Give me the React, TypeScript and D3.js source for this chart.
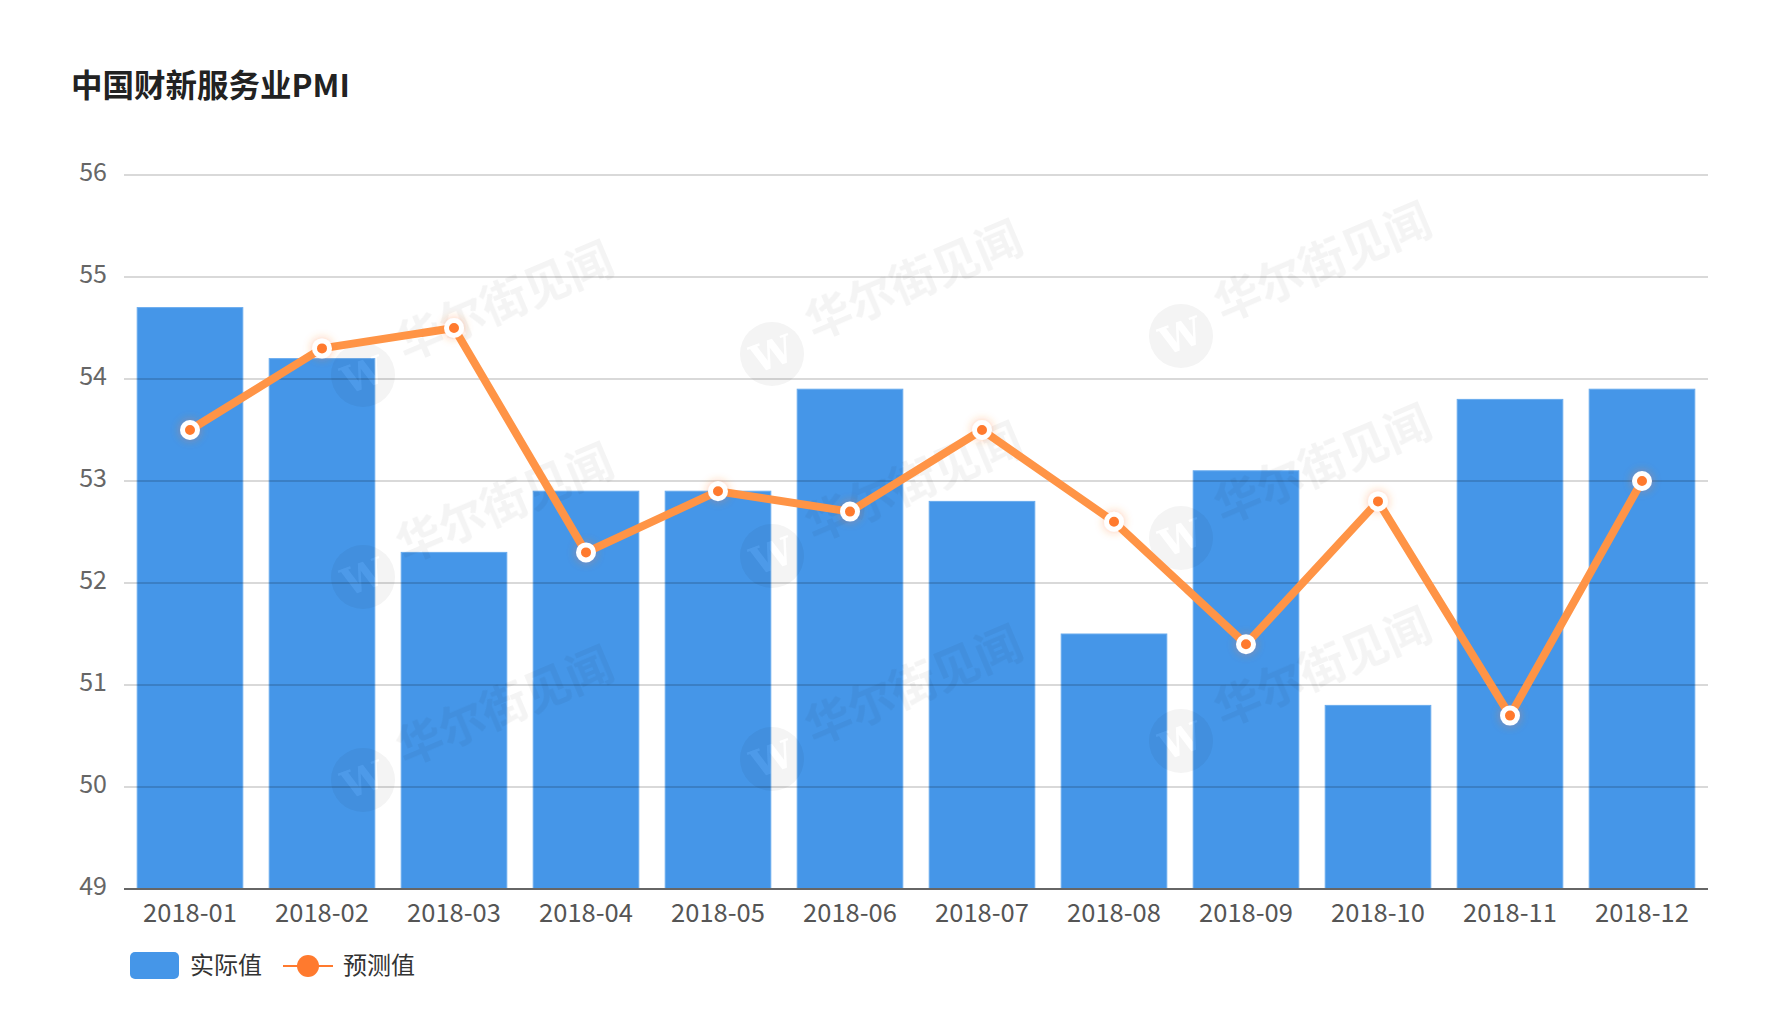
import React from "react";
import * as d3 from "d3";

const months = ["2018-01","2018-02","2018-03","2018-04","2018-05","2018-06","2018-07","2018-08","2018-09","2018-10","2018-11","2018-12"];
const actual = [54.7, 54.2, 52.3, 52.9, 52.9, 53.9, 52.8, 51.5, 53.1, 50.8, 53.8, 53.9];
const forecast = [53.5, 54.3, 54.5, 52.3, 52.9, 52.7, 53.5, 52.6, 51.4, 52.8, 50.7, 53.0];
const yTicks = [49, 50, 51, 52, 53, 54, 55, 56];
const title = "中国财新服务业PMI";
const legendNames = ["实际值", "预测值"];
const watermarkText = "华尔街见闻";

const W = 1768, H = 1020;
const left = 124, right = 1708, top = 175, bottom = 889;
const FONT = "'Noto Sans CJK SC', 'Noto Sans', sans-serif";

const wmCols = [363, 772, 1181];
const wmColDy = [0, -21, -39];
const wmRows = [375, 577, 780];

export default function App() {
  const x = d3.scaleBand<string>().domain(months).range([left, right]).paddingInner(0.2).paddingOuter(0.1);
  const y = d3.scaleLinear().domain([49, 56]).range([bottom, top]);
  const line = d3.line<number>().x((_, i) => (x(months[i]) as number) + x.bandwidth() / 2).y((d) => y(d));

  return (
    <svg width={W} height={H} style={{ position: "absolute", left: 0, top: 0, background: "#fff" }} fontFamily={FONT}>
      <defs>
        <filter id="glow" x="-100%" y="-100%" width="300%" height="300%">
          <feDropShadow dx="0" dy="0" stdDeviation="5" floodColor="#ff7a2e" floodOpacity="0.45" />
        </filter>
      </defs>
      <text x={71} y={97} fontSize={31.5} fontWeight="bold" fill="#222">{title}</text>

      {/* bars */}
      {actual.map((v, i) => (
        <rect key={i} x={x(months[i])} y={y(v)} width={x.bandwidth()} height={bottom - y(v)} fill="#4596e8" stroke="#6aacee" strokeWidth={1} />
      ))}

      {/* grid */}
      {yTicks.filter((t) => t !== 49).map((t) => (
        <line key={t} x1={left} x2={right} y1={y(t)} y2={y(t)} stroke="#000" strokeOpacity={0.2} strokeWidth={1.5} />
      ))}
      {yTicks.map((t) => (
        <text key={t} x={107} y={y(t) - 3} dy="0.35em" textAnchor="end" fontSize={25} fill="#666">{t}</text>
      ))}
      <line x1={left} x2={right} y1={bottom} y2={bottom} stroke="#666" strokeWidth={2} />
      {months.map((m) => (
        <text key={m} x={(x(m) as number) + x.bandwidth() / 2} y={913} dy="0.35em" textAnchor="middle" fontSize={25.5} fill="#555">{m}</text>
      ))}

      {/* watermark */}
      {wmRows.map((ry, r) => wmCols.map((cx, c) => {
        const cy = ry + wmColDy[c];
        return (
          <g key={`${r}-${c}`} opacity={0.045}>
            <circle cx={cx} cy={cy} r={32} fill="#000" />
            <text x={cx} y={cy} dy="0.35em" textAnchor="middle" fontSize={38} fontWeight="bold" fill="#fff" fontFamily="'DejaVu Serif', serif" transform={`rotate(-20 ${cx} ${cy})`}>W</text>
            <text x={cx + 42} y={cy - 14} fontSize={46} fontWeight="bold" fill="#000" transform={`rotate(-23 ${cx + 42} ${cy - 14})`}>{watermarkText}</text>
          </g>
        );
      }))}

      {/* line */}
      <path d={line(forecast) as string} fill="none" stroke="#ff9446" strokeWidth={8} strokeLinejoin="round" />
      {forecast.map((v, i) => (
        <circle key={i} cx={(x(months[i]) as number) + x.bandwidth() / 2} cy={y(v)} r={7.5} fill="#ff7a2e" stroke="#fff" strokeWidth={5} filter="url(#glow)" />
      ))}

      {/* legend */}
      <rect x={130} y={952} width={49} height={27} rx={5} fill="#4596e8" />
      <text x={190} y={966} dy="0.35em" fontSize={24} fill="#333">{legendNames[0]}</text>
      <line x1={283} x2={333} y1={966} y2={966} stroke="#ff7a2e" strokeWidth={2} />
      <circle cx={308} cy={966} r={11} fill="#ff7a2e" />
      <text x={343} y={966} dy="0.35em" fontSize={24} fill="#333">{legendNames[1]}</text>
    </svg>
  );
}
